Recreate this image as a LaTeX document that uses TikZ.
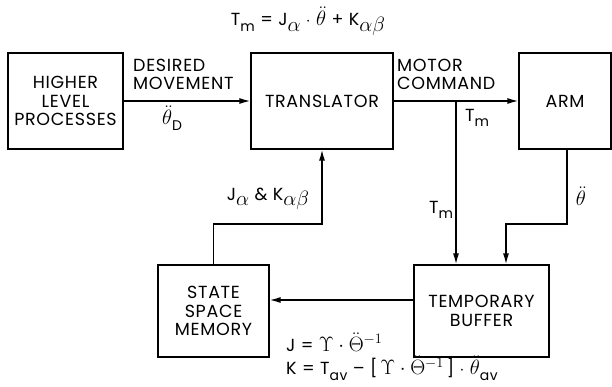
\documentclass[tikz,border=0pt]{standalone}
\usepackage{amsmath}
\usepackage{fontspec}
\setmainfont{Poppins}[LetterSpace=4]
\usepackage{tikz}
\usetikzlibrary{arrows.meta,positioning,calc}
% lowered subscript, nearly full size as in the figure
\newcommand\lo[2][14]{\raisebox{-0.55ex}{\fontsize{#1}{#1}\selectfont#2}}
\newcommand\thdd{{\fontsize{21}{21}\selectfont$\ddot{\theta}$}}

\begin{document}
\begin{tikzpicture}[x=1pt,y=-1pt,>={Latex[length=11pt,width=6pt]},
    font=\fontsize{17.5}{18.5}\selectfont]
    \tikzset{
        block/.style={draw,line width=1.2pt,align=center,inner sep=2pt},
        flow/.style={line width=1.5pt},
        lbl/.style={inner sep=1pt,align=left}
    }
    \useasboundingbox (0,0) rectangle (612,387);
    % Top equation
    \node[lbl] (eqtop) at (308,21) {T\lo{m} = J\lo[20]{$\alpha$} $\cdot$ \thdd{} + K\lo[20]{$\alpha\beta$}};
    % Upper row
    \node[block,minimum width=115,minimum height=96] (hlp) at (65.5,101) {HIGHER\\LEVEL\\PROCESSES};
    \node[block,minimum width=142,minimum height=96] (trans) at (322,101) {TRANSLATOR};
    \node[block,minimum width=92,minimum height=96] (arm) at (565,101) {ARM};
    % Lower row
    \node[block,minimum width=111,minimum height=92] (ssm) at (213.5,311) {STATE\\SPACE\\MEMORY};
    \node[block,minimum width=135,minimum height=92] (buf) at (481.5,311) {TEMPORARY\\BUFFER};
    % Desired movement
    \draw[flow,->] (hlp) -- (trans);
    \node[lbl,anchor=south west] (des) at (132,91) {DESIRED\\MOVEMENT};
    \node[lbl] (thd) at (172,118) {\thdd\lo{D}};
    % Motor command
    \draw[flow,->] (trans) -- (arm);
    \node[lbl,anchor=south west] (mot) at (396,91) {MOTOR\\COMMAND};
    \coordinate (br) at (456,101);
    \draw[flow,->] (br) -- (br |- buf.north);
    \node[lbl] (tm1) at (477,118) {T\lo{m}};
    \node[lbl] (tm2) at (441,210) {T\lo{m}};
    % Arm feedback
    \coordinate (af1) at (567,224);
    \coordinate (af2) at (506,224);
    \draw[flow,->] (arm.south -| af1) -- (af1) -- (af2) -- (af2 |- buf.north);
    \node[lbl] (tha) at (581,196) {\thdd};
    % Buffer to memory
    \draw[flow,->] ([yshift=11pt]buf.west) -- ([yshift=11pt]ssm.east);
    \node[lbl,anchor=west] (eqj) at (285,342) {J = {\fontsize{20}{20}\selectfont$\Upsilon\cdot\ddot{\Theta}^{-1}$}};
    \node[lbl,anchor=west] (eqk) at (285,368) {K = T\lo{av} -- [\,{\fontsize{20}{20}\selectfont$\Upsilon\cdot\ddot{\Theta}^{-1}$}\,] $\cdot$ \thdd\lo{av}};
    % Memory to translator
    \coordinate (fb) at (213.5,224);
    \draw[flow,->] (ssm.north) -- (fb) -| (trans.south);
    \node[lbl] (jk) at (268,199) {J\lo[20]{$\alpha$} \& K\lo[20]{$\alpha\beta$}};
\end{tikzpicture}
\end{document}
